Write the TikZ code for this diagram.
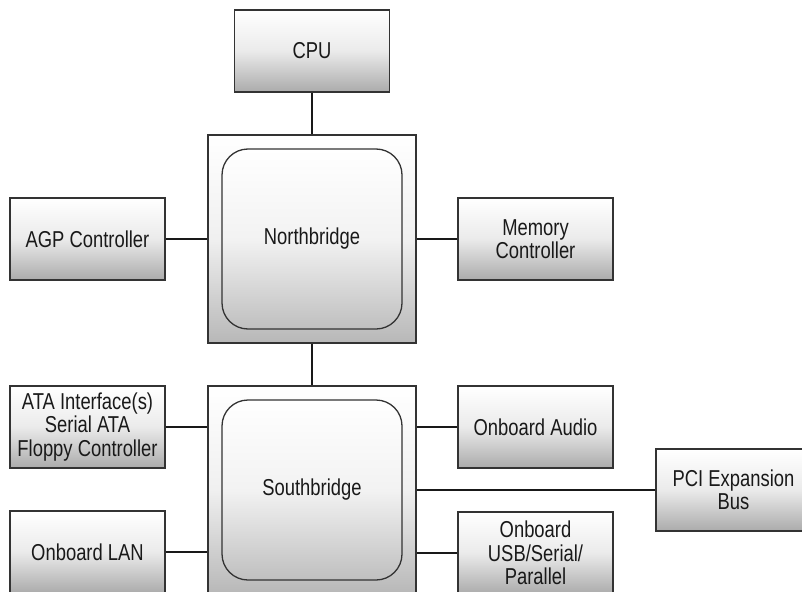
\documentclass[tikz,border=0pt]{standalone}
\usepackage{fontspec}
\setmainfont{Liberation Sans}[FakeStretch=0.80]
\begin{document}
\begin{tikzpicture}[x=1pt,y=-1pt,
  gbox/.style={draw=black!80, line width=1.3pt, shading=axis, shading angle=-45,
    top color=white, bottom color=black!33, middle color=black!8,
    minimum width=155pt, minimum height=82pt, inner sep=0pt, align=center,
    font=\fontsize{23}{23.5}\selectfont, text=black!90},
  outerbox/.style={draw=black!80, line width=1.3pt, shading=axis, shading angle=-45,
    top color=white, bottom color=black!28, middle color=black!6,
    minimum width=208pt, minimum height=208pt, inner sep=0pt},
  innerbox/.style={draw=black!80, line width=1.3pt, rounded corners=26pt, shading=axis, shading angle=-45,
    top color=white, bottom color=black!25, middle color=black!5,
    minimum width=180pt, minimum height=180pt, inner sep=0pt, align=center,
    font=\fontsize{23}{23.5}\selectfont, text=black!90},
  link/.style={draw=black!90, line width=2pt}]
\clip (0,0) rectangle (802,591);
\node[gbox] (cpu) at (312,51) {CPU};
\node[outerbox] (nb) at (312,239) {};
\node[innerbox] (nbin) at (312,239) {Northbridge};
\node[gbox] (agp) at (87.5,239) {AGP Controller};
\node[gbox] (mem) at (535.5,239) {Memory\\Controller};
\node[outerbox] (sb) at (312,490) {};
\node[innerbox] (sbin) at (312,490) {Southbridge};
\node[gbox] (ata) at (87.5,427) {ATA Interface(s)\\Serial ATA\\Floppy Controller};
\node[gbox] (lan) at (87.5,552) {Onboard LAN};
\node[gbox] (audio) at (535.5,427) {Onboard Audio};
\node[gbox] (pci) at (733.5,490) {PCI Expansion\\Bus};
\node[gbox] (usb) at (535.5,553) {Onboard\\USB/Serial/\\Parallel};
\draw[link] (cpu.south) -- (nb.north);
\draw[link] (nb.south) -- (sb.north);
\draw[link] (agp.east) -- (nb.west |- agp.east);
\draw[link] (mem.west) -- (nb.east |- mem.west);
\draw[link] (ata.east) -- (sb.west |- ata.east);
\draw[link] (lan.east) -- (sb.west |- lan.east);
\draw[link] (audio.west) -- (sb.east |- audio.west);
\draw[link] (pci.west) -- (sb.east |- pci.west);
\draw[link] (usb.west) -- (sb.east |- usb.west);
\end{tikzpicture}
\end{document}
